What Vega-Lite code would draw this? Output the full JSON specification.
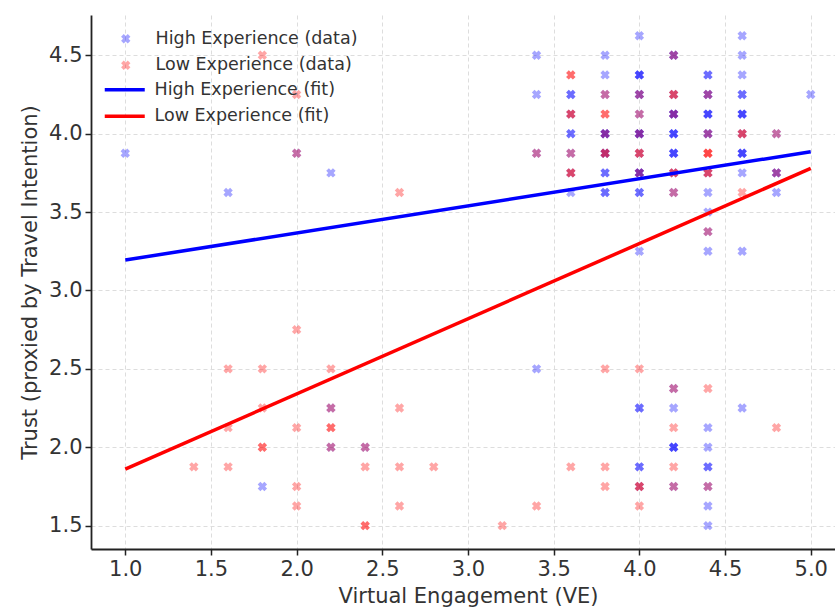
{
  "$schema": "https://vega.github.io/schema/vega-lite/v6.json",
  "width": 754,
  "height": 534,
  "autosize": "none",
  "padding": {"left": 91, "top": 15, "right": 0, "bottom": 62},
  "background": "white",
  "config": {"view": {"stroke": null}, "font": "DejaVu Sans"},
  "encoding": {
    "x": {"field": "x", "type": "quantitative",
      "scale": {"domain": [0.8, 5.2], "nice": false, "zero": false},
      "axis": {"values": [1, 1.5, 2, 2.5, 3, 3.5, 4, 4.5, 5], "format": ".1f", "title": "Virtual Engagement (VE)",
        "titleFontSize": 21, "titleFontWeight": "normal", "titleColor": "#333333", "titlePadding": 6,
        "labelFontSize": 21, "labelColor": "#333333", "labelPadding": 3, "labelFlush": false,
        "tickSize": 6, "tickColor": "#222222", "tickWidth": 1.5, "domainColor": "#222222", "domainWidth": 1.8,
        "grid": true, "gridColor": "#dddddd", "gridDash": [4, 3], "gridWidth": 1}},
    "y": {"field": "y", "type": "quantitative",
      "scale": {"domain": [1.351, 4.757], "nice": false, "zero": false},
      "axis": {"values": [1.5, 2, 2.5, 3, 3.5, 4, 4.5], "format": ".1f", "title": "Trust (proxied by Travel Intention)",
        "titleFontSize": 21, "titleFontWeight": "normal", "titleColor": "#333333", "titlePadding": 8,
        "labelFontSize": 21, "labelColor": "#333333", "labelPadding": 3, "labelFlush": false,
        "tickSize": 6, "tickColor": "#222222", "tickWidth": 1.5, "domainColor": "#222222", "domainWidth": 1.8,
        "grid": true, "gridColor": "#dddddd", "gridDash": [4, 3], "gridWidth": 1}}
  },
  "layer": [
    {
      "data": {"values": [
        {"x":1.0,"y":3.875,"g":"High Experience (data)"},
        {"x":1.6,"y":3.625,"g":"High Experience (data)"},
        {"x":2.0,"y":3.875,"g":"High Experience (data)"},
        {"x":2.2,"y":3.75,"g":"High Experience (data)"},
        {"x":3.4,"y":3.875,"g":"High Experience (data)"},
        {"x":2.2,"y":2.25,"g":"High Experience (data)"},
        {"x":2.2,"y":2.0,"g":"High Experience (data)"},
        {"x":2.4,"y":2.0,"g":"High Experience (data)"},
        {"x":1.8,"y":1.75,"g":"High Experience (data)"},
        {"x":3.4,"y":2.5,"g":"High Experience (data)"},
        {"x":4.2,"y":2.375,"g":"High Experience (data)"},
        {"x":4.0,"y":2.25,"g":"High Experience (data)"},
        {"x":4.0,"y":2.25,"g":"High Experience (data)"},
        {"x":4.2,"y":2.25,"g":"High Experience (data)"},
        {"x":4.6,"y":2.25,"g":"High Experience (data)"},
        {"x":4.4,"y":2.125,"g":"High Experience (data)"},
        {"x":4.2,"y":2.0,"g":"High Experience (data)"},
        {"x":4.2,"y":2.0,"g":"High Experience (data)"},
        {"x":4.2,"y":2.0,"g":"High Experience (data)"},
        {"x":4.4,"y":2.0,"g":"High Experience (data)"},
        {"x":4.0,"y":1.875,"g":"High Experience (data)"},
        {"x":4.0,"y":1.875,"g":"High Experience (data)"},
        {"x":4.4,"y":1.875,"g":"High Experience (data)"},
        {"x":4.4,"y":1.875,"g":"High Experience (data)"},
        {"x":4.0,"y":1.75,"g":"High Experience (data)"},
        {"x":4.2,"y":1.75,"g":"High Experience (data)"},
        {"x":4.4,"y":1.75,"g":"High Experience (data)"},
        {"x":4.4,"y":1.625,"g":"High Experience (data)"},
        {"x":4.4,"y":1.5,"g":"High Experience (data)"},
        {"x":4.0,"y":4.625,"g":"High Experience (data)"},
        {"x":4.6,"y":4.625,"g":"High Experience (data)"},
        {"x":3.4,"y":4.5,"g":"High Experience (data)"},
        {"x":3.8,"y":4.5,"g":"High Experience (data)"},
        {"x":4.2,"y":4.5,"g":"High Experience (data)"},
        {"x":4.2,"y":4.5,"g":"High Experience (data)"},
        {"x":4.6,"y":4.5,"g":"High Experience (data)"},
        {"x":3.8,"y":4.375,"g":"High Experience (data)"},
        {"x":4.0,"y":4.375,"g":"High Experience (data)"},
        {"x":4.0,"y":4.375,"g":"High Experience (data)"},
        {"x":4.0,"y":4.375,"g":"High Experience (data)"},
        {"x":4.4,"y":4.375,"g":"High Experience (data)"},
        {"x":4.4,"y":4.375,"g":"High Experience (data)"},
        {"x":4.6,"y":4.375,"g":"High Experience (data)"},
        {"x":3.4,"y":4.25,"g":"High Experience (data)"},
        {"x":3.6,"y":4.25,"g":"High Experience (data)"},
        {"x":3.6,"y":4.25,"g":"High Experience (data)"},
        {"x":3.8,"y":4.25,"g":"High Experience (data)"},
        {"x":4.0,"y":4.25,"g":"High Experience (data)"},
        {"x":4.0,"y":4.25,"g":"High Experience (data)"},
        {"x":4.2,"y":4.25,"g":"High Experience (data)"},
        {"x":4.4,"y":4.25,"g":"High Experience (data)"},
        {"x":4.4,"y":4.25,"g":"High Experience (data)"},
        {"x":4.6,"y":4.25,"g":"High Experience (data)"},
        {"x":4.6,"y":4.25,"g":"High Experience (data)"},
        {"x":5.0,"y":4.25,"g":"High Experience (data)"},
        {"x":3.6,"y":4.125,"g":"High Experience (data)"},
        {"x":4.0,"y":4.125,"g":"High Experience (data)"},
        {"x":4.2,"y":4.125,"g":"High Experience (data)"},
        {"x":4.2,"y":4.125,"g":"High Experience (data)"},
        {"x":4.2,"y":4.125,"g":"High Experience (data)"},
        {"x":4.4,"y":4.125,"g":"High Experience (data)"},
        {"x":4.4,"y":4.125,"g":"High Experience (data)"},
        {"x":4.4,"y":4.125,"g":"High Experience (data)"},
        {"x":4.6,"y":4.125,"g":"High Experience (data)"},
        {"x":4.6,"y":4.125,"g":"High Experience (data)"},
        {"x":4.6,"y":4.125,"g":"High Experience (data)"},
        {"x":3.6,"y":4.0,"g":"High Experience (data)"},
        {"x":3.6,"y":4.0,"g":"High Experience (data)"},
        {"x":3.8,"y":4.0,"g":"High Experience (data)"},
        {"x":3.8,"y":4.0,"g":"High Experience (data)"},
        {"x":3.8,"y":4.0,"g":"High Experience (data)"},
        {"x":4.0,"y":4.0,"g":"High Experience (data)"},
        {"x":4.0,"y":4.0,"g":"High Experience (data)"},
        {"x":4.0,"y":4.0,"g":"High Experience (data)"},
        {"x":4.2,"y":4.0,"g":"High Experience (data)"},
        {"x":4.2,"y":4.0,"g":"High Experience (data)"},
        {"x":4.2,"y":4.0,"g":"High Experience (data)"},
        {"x":4.4,"y":4.0,"g":"High Experience (data)"},
        {"x":4.4,"y":4.0,"g":"High Experience (data)"},
        {"x":4.6,"y":4.0,"g":"High Experience (data)"},
        {"x":4.8,"y":4.0,"g":"High Experience (data)"},
        {"x":3.6,"y":3.875,"g":"High Experience (data)"},
        {"x":3.8,"y":3.875,"g":"High Experience (data)"},
        {"x":3.8,"y":3.875,"g":"High Experience (data)"},
        {"x":4.0,"y":3.875,"g":"High Experience (data)"},
        {"x":4.2,"y":3.875,"g":"High Experience (data)"},
        {"x":4.2,"y":3.875,"g":"High Experience (data)"},
        {"x":4.2,"y":3.875,"g":"High Experience (data)"},
        {"x":4.6,"y":3.875,"g":"High Experience (data)"},
        {"x":4.6,"y":3.875,"g":"High Experience (data)"},
        {"x":4.6,"y":3.875,"g":"High Experience (data)"},
        {"x":3.6,"y":3.75,"g":"High Experience (data)"},
        {"x":3.8,"y":3.75,"g":"High Experience (data)"},
        {"x":3.8,"y":3.75,"g":"High Experience (data)"},
        {"x":4.0,"y":3.75,"g":"High Experience (data)"},
        {"x":4.0,"y":3.75,"g":"High Experience (data)"},
        {"x":4.0,"y":3.75,"g":"High Experience (data)"},
        {"x":4.2,"y":3.75,"g":"High Experience (data)"},
        {"x":4.4,"y":3.75,"g":"High Experience (data)"},
        {"x":4.6,"y":3.75,"g":"High Experience (data)"},
        {"x":4.8,"y":3.75,"g":"High Experience (data)"},
        {"x":4.8,"y":3.75,"g":"High Experience (data)"},
        {"x":3.6,"y":3.625,"g":"High Experience (data)"},
        {"x":3.8,"y":3.625,"g":"High Experience (data)"},
        {"x":3.8,"y":3.625,"g":"High Experience (data)"},
        {"x":4.0,"y":3.625,"g":"High Experience (data)"},
        {"x":4.0,"y":3.625,"g":"High Experience (data)"},
        {"x":4.2,"y":3.625,"g":"High Experience (data)"},
        {"x":4.4,"y":3.625,"g":"High Experience (data)"},
        {"x":4.8,"y":3.625,"g":"High Experience (data)"},
        {"x":4.4,"y":3.5,"g":"High Experience (data)"},
        {"x":4.4,"y":3.375,"g":"High Experience (data)"},
        {"x":4.0,"y":3.25,"g":"High Experience (data)"},
        {"x":4.4,"y":3.25,"g":"High Experience (data)"},
        {"x":4.6,"y":3.25,"g":"High Experience (data)"},
        {"x":2.0,"y":3.875,"g":"Low Experience (data)"},
        {"x":2.6,"y":3.625,"g":"Low Experience (data)"},
        {"x":3.4,"y":3.875,"g":"Low Experience (data)"},
        {"x":1.8,"y":4.5,"g":"Low Experience (data)"},
        {"x":2.0,"y":4.25,"g":"Low Experience (data)"},
        {"x":2.0,"y":2.75,"g":"Low Experience (data)"},
        {"x":1.6,"y":2.5,"g":"Low Experience (data)"},
        {"x":1.8,"y":2.5,"g":"Low Experience (data)"},
        {"x":2.2,"y":2.5,"g":"Low Experience (data)"},
        {"x":2.2,"y":2.25,"g":"Low Experience (data)"},
        {"x":2.6,"y":2.25,"g":"Low Experience (data)"},
        {"x":1.8,"y":2.25,"g":"Low Experience (data)"},
        {"x":1.6,"y":2.125,"g":"Low Experience (data)"},
        {"x":2.0,"y":2.125,"g":"Low Experience (data)"},
        {"x":2.2,"y":2.125,"g":"Low Experience (data)"},
        {"x":2.2,"y":2.125,"g":"Low Experience (data)"},
        {"x":1.8,"y":2.0,"g":"Low Experience (data)"},
        {"x":1.8,"y":2.0,"g":"Low Experience (data)"},
        {"x":2.2,"y":2.0,"g":"Low Experience (data)"},
        {"x":2.4,"y":2.0,"g":"Low Experience (data)"},
        {"x":1.4,"y":1.875,"g":"Low Experience (data)"},
        {"x":1.6,"y":1.875,"g":"Low Experience (data)"},
        {"x":2.4,"y":1.875,"g":"Low Experience (data)"},
        {"x":2.6,"y":1.875,"g":"Low Experience (data)"},
        {"x":2.8,"y":1.875,"g":"Low Experience (data)"},
        {"x":2.0,"y":1.75,"g":"Low Experience (data)"},
        {"x":2.0,"y":1.625,"g":"Low Experience (data)"},
        {"x":2.6,"y":1.625,"g":"Low Experience (data)"},
        {"x":2.4,"y":1.5,"g":"Low Experience (data)"},
        {"x":2.4,"y":1.5,"g":"Low Experience (data)"},
        {"x":3.2,"y":1.5,"g":"Low Experience (data)"},
        {"x":3.4,"y":1.625,"g":"Low Experience (data)"},
        {"x":3.6,"y":1.875,"g":"Low Experience (data)"},
        {"x":3.8,"y":2.5,"g":"Low Experience (data)"},
        {"x":4.0,"y":2.5,"g":"Low Experience (data)"},
        {"x":4.2,"y":2.375,"g":"Low Experience (data)"},
        {"x":4.4,"y":2.375,"g":"Low Experience (data)"},
        {"x":4.2,"y":2.125,"g":"Low Experience (data)"},
        {"x":4.8,"y":2.125,"g":"Low Experience (data)"},
        {"x":3.8,"y":1.875,"g":"Low Experience (data)"},
        {"x":4.2,"y":1.875,"g":"Low Experience (data)"},
        {"x":3.8,"y":1.75,"g":"Low Experience (data)"},
        {"x":4.0,"y":1.75,"g":"Low Experience (data)"},
        {"x":4.0,"y":1.75,"g":"Low Experience (data)"},
        {"x":4.2,"y":1.75,"g":"Low Experience (data)"},
        {"x":4.4,"y":1.75,"g":"Low Experience (data)"},
        {"x":4.0,"y":1.625,"g":"Low Experience (data)"},
        {"x":4.2,"y":4.5,"g":"Low Experience (data)"},
        {"x":3.6,"y":4.375,"g":"Low Experience (data)"},
        {"x":3.6,"y":4.375,"g":"Low Experience (data)"},
        {"x":3.8,"y":4.25,"g":"Low Experience (data)"},
        {"x":4.0,"y":4.25,"g":"Low Experience (data)"},
        {"x":4.2,"y":4.25,"g":"Low Experience (data)"},
        {"x":4.2,"y":4.25,"g":"Low Experience (data)"},
        {"x":4.4,"y":4.25,"g":"Low Experience (data)"},
        {"x":3.6,"y":4.125,"g":"Low Experience (data)"},
        {"x":3.6,"y":4.125,"g":"Low Experience (data)"},
        {"x":3.8,"y":4.125,"g":"Low Experience (data)"},
        {"x":3.8,"y":4.125,"g":"Low Experience (data)"},
        {"x":4.0,"y":4.125,"g":"Low Experience (data)"},
        {"x":4.2,"y":4.125,"g":"Low Experience (data)"},
        {"x":3.8,"y":4.0,"g":"Low Experience (data)"},
        {"x":4.0,"y":4.0,"g":"Low Experience (data)"},
        {"x":4.4,"y":4.0,"g":"Low Experience (data)"},
        {"x":4.6,"y":4.0,"g":"Low Experience (data)"},
        {"x":4.6,"y":4.0,"g":"Low Experience (data)"},
        {"x":4.8,"y":4.0,"g":"Low Experience (data)"},
        {"x":3.6,"y":3.875,"g":"Low Experience (data)"},
        {"x":3.8,"y":3.875,"g":"Low Experience (data)"},
        {"x":3.8,"y":3.875,"g":"Low Experience (data)"},
        {"x":4.0,"y":3.875,"g":"Low Experience (data)"},
        {"x":4.0,"y":3.875,"g":"Low Experience (data)"},
        {"x":4.4,"y":3.875,"g":"Low Experience (data)"},
        {"x":4.4,"y":3.875,"g":"Low Experience (data)"},
        {"x":4.4,"y":3.875,"g":"Low Experience (data)"},
        {"x":3.6,"y":3.75,"g":"Low Experience (data)"},
        {"x":3.6,"y":3.75,"g":"Low Experience (data)"},
        {"x":4.0,"y":3.75,"g":"Low Experience (data)"},
        {"x":4.2,"y":3.75,"g":"Low Experience (data)"},
        {"x":4.2,"y":3.75,"g":"Low Experience (data)"},
        {"x":4.4,"y":3.75,"g":"Low Experience (data)"},
        {"x":4.4,"y":3.75,"g":"Low Experience (data)"},
        {"x":4.8,"y":3.75,"g":"Low Experience (data)"},
        {"x":4.2,"y":3.625,"g":"Low Experience (data)"},
        {"x":4.6,"y":3.625,"g":"Low Experience (data)"},
        {"x":4.4,"y":3.375,"g":"Low Experience (data)"}
      ]},
      "mark": {"type": "point", "shape": "cross", "angle": 45, "filled": true, "size": 90, "opacity": 0.35, "clip": true},
      "encoding": {
        "fill": {"field": "g", "type": "nominal",
          "scale": {"domain": ["High Experience (data)", "Low Experience (data)"], "range": ["#0000ff", "#ff0000"]},
          "legend": {"title": null, "orient": "none", "legendX": 26, "legendY": 15, "padding": 0,
            "symbolType": "cross", "symbolSize": 90, "symbolOpacity": 0.35, "symbolStrokeWidth": 0,
            "labelFontSize": 17.5, "labelColor": "#333333", "labelOffset": 21, "labelLimit": 0, "rowPadding": 7.5,
            "encode": {"symbols": {"update": {"angle": {"value": 45}}}}}}
      }
    },
    {
      "data": {"values": [
        {"x": 1.0, "y": 3.194, "g": "High Experience (fit)"},
        {"x": 5.0, "y": 3.885, "g": "High Experience (fit)"},
        {"x": 1.0, "y": 1.86, "g": "Low Experience (fit)"},
        {"x": 5.0, "y": 3.779, "g": "Low Experience (fit)"}
      ]},
      "mark": {"type": "line", "strokeWidth": 3.5, "clip": true},
      "encoding": {
        "stroke": {"field": "g", "type": "nominal",
          "scale": {"domain": ["High Experience (fit)", "Low Experience (fit)"], "range": ["#0000ff", "#ff0000"]},
          "legend": {"title": null, "orient": "none", "legendX": 25, "legendY": 66, "padding": 0,
            "symbolType": "M-8,0L8,0", "symbolSize": 25, "symbolStrokeWidth": 3.5,
            "labelFontSize": 17.5, "labelColor": "#333333", "labelOffset": 21, "labelLimit": 0, "rowPadding": 7.5}}
      }
    }
  ]
}
